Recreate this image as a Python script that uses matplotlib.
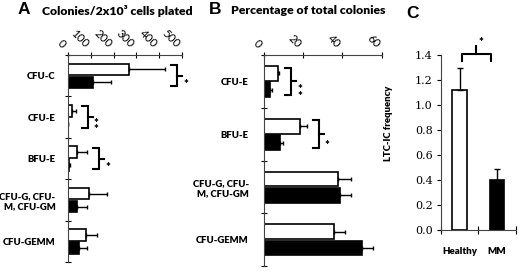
import numpy as np
import matplotlib
matplotlib.use("Agg")
import matplotlib.pyplot as plt

plt.rcParams['font.family'] = ['Lato', 'DejaVu Sans']

# panel A: colonies per 2x10^3 cells
cats_a = ["CFU-C", "CFU-E", "BFU-E", "CFU-G, CFU-\nM, CFU-GM", "CFU-GEMM"]
healthy_a = [269, 19, 40, 93, 81]
healthy_a_err = [158, 15, 44, 79, 44]
mm_a = [110, 2, 3, 40, 48]
mm_a_err = [77, 0, 4, 45, 37]
stars_a = ["*", "**", "*", "", ""]

# panel B: percentage of total colonies
cats_b = ["CFU-E", "BFU-E", "CFU-G, CFU-\nM, CFU-GM", "CFU-GEMM"]
healthy_b = [7.1, 18.4, 37.9, 35.7]
healthy_b_err = [0.8, 3.4, 6.5, 5.8]
mm_b = [3.1, 8.2, 38.8, 50.2]
mm_b_err = [0.8, 1.7, 5.6, 5.3]
stars_b = ["**", "*", "", ""]

# panel C: LTC-IC frequency
groups_c = ["Healthy", "MM"]
ltc = [1.12, 0.40]
ltc_err = [0.18, 0.09]

W, H = 520, 272
fig = plt.figure(figsize=(W / 100, H / 100), dpi=100)


def px(x0, y0, x1, y1):
    # pixel box (from top-left) -> figure fraction rect
    return [x0 / W, 1 - y1 / H, (x1 - x0) / W, (y1 - y0) / H]


def hbar_panel(ax, cats, white, werr, black, berr, stars, xmax, step, lpad):
    n = len(cats)
    pos = np.arange(n) + 0.5
    h = 0.28
    ax.barh(pos - 0.15, white, height=h, color='white', edgecolor='black', linewidth=1.2)
    ax.barh(pos + 0.16, black, height=h, color='black', edgecolor='black', linewidth=1.2)
    ax.errorbar(white, pos - 0.15, xerr=[np.zeros(n), werr], fmt='none', ecolor='black',
                elinewidth=1, capsize=1.6, capthick=1)
    ax.errorbar(black, pos + 0.16, xerr=[np.zeros(n), berr], fmt='none', ecolor='black',
                elinewidth=1, capsize=1.6, capthick=1)
    ax.set_xlim(0, xmax)
    ax.set_ylim(n, 0)
    ax.xaxis.tick_top()
    ax.set_xticks(np.arange(0, xmax + 1, step))
    ax.tick_params(axis='x', direction='inout', length=4, width=0.8, pad=1.5, labelsize=8.3)
    plt.setp(ax.get_xticklabels(), rotation=-45, ha='right', va='bottom')
    ax.set_yticks(np.arange(n + 1))
    ax.set_yticklabels([])
    ax.tick_params(axis='y', direction='inout', length=5, width=0.8)
    ax.set_yticks(pos, cats, minor=True)
    ax.tick_params(axis='y', which='minor', length=0, pad=lpad, labelsize=6.8)
    for t in ax.get_yticklabels(minor=True):
        t.set_fontweight('heavy')
        t.set_ha('right')
        t.set_multialignment('right')
    for s in ['bottom', 'right']:
        ax.spines[s].set_visible(False)
    for s in ['top', 'left']:
        ax.spines[s].set_linewidth(0.8)
        ax.spines[s].set_color('#444444')

    # significance brackets
    upp = xmax / (ax.get_position().width * W)  # data units per pixel
    for i, st in enumerate(stars):
        if not st:
            continue
        right = max(white[i] + werr[i], black[i] + berr[i])
        x0 = right + 6 * upp
        x1 = x0 + 6 * upp
        yc = pos[i]
        ax.plot([x0, x1, x1, x0], [yc - 0.26, yc - 0.26, yc + 0.26, yc + 0.26],
                color='black', lw=1.5, clip_on=False, solid_joinstyle='miter')
        ax.plot([x1, x1 + 5 * upp], [yc, yc], color='black', lw=1.5, clip_on=False)
        ax.text(x1 + 6 * upp, yc + 0.22, "\n".join(st), ha='left', va='center',
                fontsize=8, fontweight='heavy', linespacing=0.45, clip_on=False)


ax_a = fig.add_axes(px(68, 55, 182, 262))
hbar_panel(ax_a, cats_a, healthy_a, healthy_a_err, mm_a, mm_a_err, stars_a, 500, 100, 9)

ax_b = fig.add_axes(px(264, 55, 381.7, 266))
hbar_panel(ax_b, cats_b, healthy_b, healthy_b_err, mm_b, mm_b_err, stars_b, 60, 20, 11)

# panel C
ax_c = fig.add_axes(px(441, 55, 515.7, 230))
xc = np.arange(len(groups_c)) + 0.5
ax_c.bar(xc, ltc, width=0.4, color=['white', 'black'], edgecolor='black', linewidth=1.2)
ax_c.errorbar(xc, ltc, yerr=[np.zeros(len(ltc)), ltc_err], fmt='none', ecolor='black',
              elinewidth=1, capsize=2, capthick=1)
ax_c.set_xlim(0, 2)
ax_c.set_ylim(0, 1.4)
yt = np.arange(0, 1.41, 0.2)
ax_c.set_yticks(yt)
ax_c.set_yticklabels([f"{v:.1f}" for v in yt], family='DejaVu Serif')
ax_c.tick_params(axis='y', direction='out', length=3, width=0.8, labelsize=8, pad=3)
ax_c.set_xticks([0, 1, 2])
ax_c.set_xticklabels([])
ax_c.tick_params(axis='x', direction='inout', length=6, width=0.8)
ax_c.set_xticks(xc, groups_c, minor=True)
ax_c.tick_params(axis='x', which='minor', length=0, pad=12, labelsize=7)
for t in ax_c.get_xticklabels(minor=True):
    t.set_fontweight('heavy')
for s in ['top', 'right']:
    ax_c.spines[s].set_visible(False)
for s in ['bottom', 'left']:
    ax_c.spines[s].set_linewidth(0.8)
    ax_c.spines[s].set_color('#444444')
ax_c.set_ylabel("LTC-IC frequency", fontsize=6.8, fontweight='heavy')
ax_c.yaxis.set_label_coords(-0.64, 0.61)

# bracket over the two bars
bl, br = xc[0] + 0.05, xc[1] - 0.17
ax_c.plot([bl, bl, br, br], [1.35, 1.405, 1.405, 1.35], color='black', lw=1.5, clip_on=False)
ax_c.plot([(bl + br) / 2] * 2, [1.405, 1.47], color='black', lw=1.5, clip_on=False)
ax_c.text((bl + br) / 2 + 0.14, 1.5, "*", ha='center', va='center', fontsize=8,
          fontweight='heavy', clip_on=False)

# panel letters and titles
fig.text(18 / W, 1 - 10 / H, "A", fontsize=12.5, fontweight='bold', family='Liberation Sans', va='center')
fig.text(42 / W, 1 - 11 / H, "Colonies/2x10³ cells plated", fontsize=8.8,
         fontweight='heavy', va='center')
fig.text(209 / W, 1 - 9 / H, "B", fontsize=12.5, fontweight='bold', family='Liberation Sans', va='center')
fig.text(231 / W, 1 - 10 / H, "Percentage of total colonies", fontsize=8.8, fontweight='heavy',
         va='center')
fig.text(406 / W, 1 - 13 / H, "C", fontsize=12.5, fontweight='bold', family='Liberation Sans', va='center')

fig.savefig("out.png", dpi=100)
